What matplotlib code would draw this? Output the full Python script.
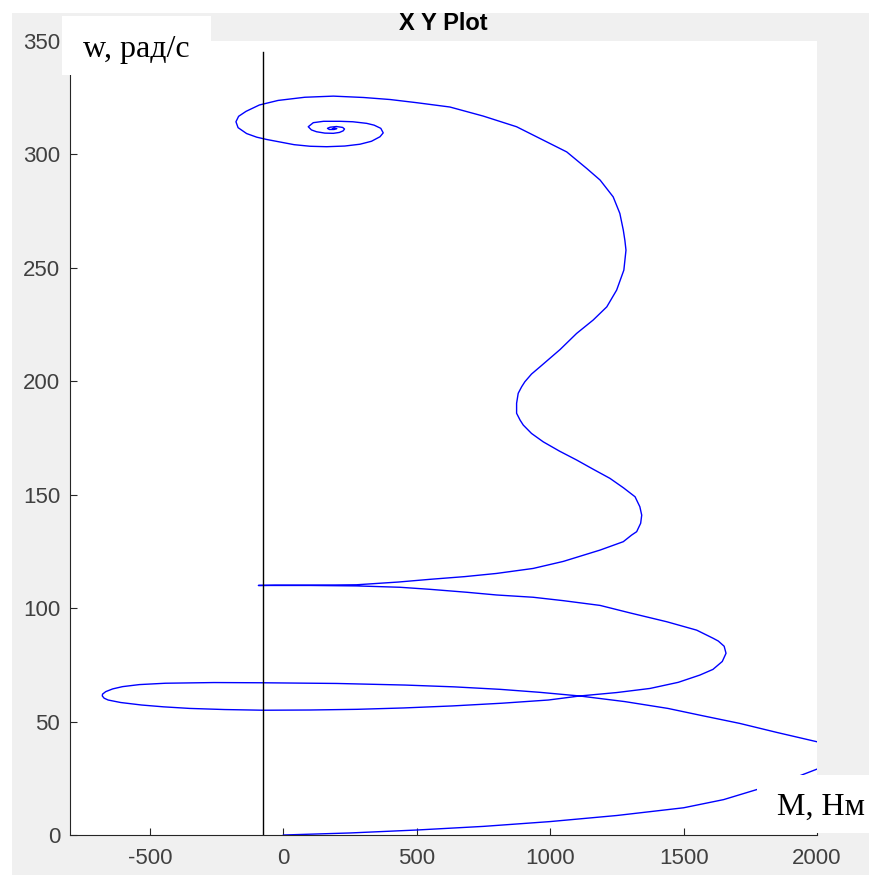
import matplotlib.pyplot as plt
from matplotlib.patches import Rectangle

plt.rcParams['axes.unicode_minus'] = False

# Траектория M(w), точки
M = [0, 250, 500, 750, 998, 1250, 1500, 1650, 1774, 1900, 1999, 2100, 2150, 2120, 2000,
     1850, 1710, 1570, 1441, 1280, 1109, 960, 813, 640, 455, 200, -74, -260, -442, -540, -603,
     -640, -666, -678, -679, -672, -657, -610, -532, -450, -352, -220, -74, 100, 276, 450, 634,
     820, 993, 1112, 1250, 1374, 1480, 1561, 1610, 1645, 1659, 1652, 1630, 1611, 1549, 1437,
     1299, 1187, 1049, 936, 799, 687, 549, 437, 274, 100, -30, -94, -30, 100, 274, 430, 549,
     680, 799, 936, 1049, 1187, 1274, 1305, 1324, 1339, 1343, 1336, 1318, 1275, 1224, 1160,
     1099, 1035, 974, 930, 899, 887, 874, 874, 880, 893, 905, 930, 962, 1037, 1099, 1161,
     1212, 1249, 1276, 1284, 1280, 1274, 1261, 1236, 1187, 1137, 1062, 974, 874, 749, 624,
     500, 400, 300, 187, 80, -20, -90, -140, -168, -178, -170, -138, -100, -63, 40, 100, 162,
     230, 287, 330, 362, 374, 365, 340, 312, 260, 212, 150, 112, 93, 105, 124, 155, 187, 210,
     224, 229, 222, 199, 175, 165, 172, 190, 200, 190, 184]
w = [0, 0.9, 2.2, 3.8, 5.9, 8.6, 12, 15.6, 20, 24.5, 29, 33, 35.5, 38, 41.1,
     45.2, 49.2, 52.6, 55.8, 58.8, 61.3, 62.9, 64.2, 65.3, 66.1, 66.8, 67.1, 67.2, 66.9, 66.3, 65.4,
     64.4, 63.2, 62.1, 61.3, 60.3, 59.5, 58.4, 57.3, 56.5, 55.8, 55.3, 55.0, 55.1, 55.4, 56.0, 56.9,
     58.1, 59.5, 61.3, 62.8, 64.6, 67.3, 70.5, 73.0, 76.5, 80.1, 83.2, 85.5, 86.7, 90.3, 94.0,
     97.9, 101.2, 103.3, 104.8, 105.8, 107.0, 108.3, 109.2, 109.8, 110.0, 110.0, 110.0, 110.1, 110.1, 110.3, 111.5, 112.7,
     113.9, 115.3, 117.5, 120.6, 125.6, 129.3, 132.2, 133.7, 137.4, 141.0, 144.7, 149.1, 153.0, 157.2, 161.3,
     165.3, 169.2, 173.3, 177.0, 180.7, 182.9, 185.9, 190.3, 194.7, 197.6, 199.8, 203.2, 206.4, 214, 221.1, 227,
     232.8, 240.2, 249, 257.8, 262.0, 266.6, 274, 281.3, 288.7, 293.8, 301.1, 306.3, 312.2, 316.9, 320.9,
     322.8, 324.2, 325.1, 325.7, 325.2, 323.8, 321.8, 319.0, 316.8, 314.4, 311.8, 309.2, 307.6, 306.6, 304.3, 303.6, 303.4,
     303.7, 304.5, 305.8, 307.8, 309.5, 311.5, 312.9, 313.7, 314.4, 314.6, 314.6, 314.0, 312.2, 310.8, 310.0, 309.4, 309.3, 309.7,
     310.4, 311.2, 311.9, 312.3, 312.0, 311.5, 311.0, 311.0, 311.4, 311.6, 311.3]

# вертикальная линия
line_x = [-75, -75]
line_y = [0, 345]

fig = plt.figure(figsize=(8.69, 8.75), dpi=100)
fig.patch.set_facecolor('white')
# серый фон окна
fig.add_artist(Rectangle((12 / 869, 0), 1, 1 - 13 / 875, transform=fig.transFigure,
                         facecolor='#f0f0f0', edgecolor='none', zorder=0))

ax = fig.add_axes([70 / 869, 40 / 875, 747 / 869, 794 / 875])
ax.set_facecolor('white')
ax.plot(M, w, color='#0000ff', linewidth=1.0)
ax.plot(line_x, line_y, color='black', linewidth=1.0)

ax.set_xlim(-800, 2000)
ax.set_ylim(0, 350)
ax.set_xticks([-500, 0, 500, 1000, 1500, 2000])
ax.set_yticks([0, 50, 100, 150, 200, 250, 300, 350])
for s in ['top', 'right']:
    ax.spines[s].set_visible(False)
for s in ['left', 'bottom']:
    ax.spines[s].set_color('#262626')
    ax.spines[s].set_linewidth(0.8)
ax.tick_params(direction='in', length=5, width=0.8, colors='#262626',
               labelsize=16, labelcolor='#404040')
ax.tick_params(axis='x', pad=9)
ax.tick_params(axis='y', pad=7)
for lab in ax.get_xticklabels() + ax.get_yticklabels():
    lab.set_family('Liberation Sans')

fig.text(443.5 / 869, 1 - 23 / 875, 'X Y Plot', ha='center', va='center',
         fontsize=17, fontweight='bold', family='Liberation Sans', color='black')

# подписи осей в белых рамках
fig.add_artist(Rectangle((62 / 869, 1 - 75 / 875), 149 / 869, 59 / 875,
                         transform=fig.transFigure, facecolor='white',
                         edgecolor='none', zorder=5))
fig.text(83 / 869, 1 - 57 / 875, 'w, рад/с', ha='left', va='baseline',
         fontsize=23, family='Liberation Serif', zorder=6)
fig.add_artist(Rectangle((757 / 869, 1 - 833 / 875), 112 / 869, 58 / 875,
                         transform=fig.transFigure, facecolor='white',
                         edgecolor='none', zorder=5))
fig.text(777 / 869, 1 - 815 / 875, 'M, Нм', ha='left', va='baseline',
         fontsize=23, family='Liberation Serif', zorder=6)

plt.savefig('out.png', dpi=100)
